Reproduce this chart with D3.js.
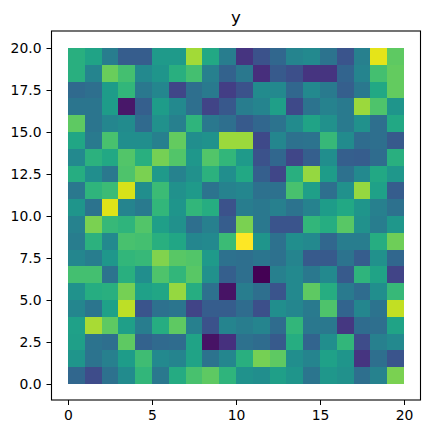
<!DOCTYPE html>
<html>
<head>
<meta charset="utf-8">
<script src="https://cdn.jsdelivr.net/npm/d3@7"></script>
<style>
html,body{margin:0;padding:0;background:#fff}
svg{display:block}
text{font-family:"DejaVu Sans",sans-serif;fill:#000}
</style>
</head>
<body>
<script>
const titleText = "y";
const xTicks = [0, 5, 10, 15, 20];
const yTicks = [0, 2.5, 5, 7.5, 10, 12.5, 15, 17.5, 20];
const row19 = [.63,.58,.42,.29,.29,.54,.54,.86,.60,.42,.15,.25,.33,.45,.47,.38,.26,.43,.96,.75];
const row18 = [.63,.45,.77,.70,.47,.52,.63,.70,.43,.31,.40,.13,.28,.24,.15,.15,.32,.45,.70,.76];
const row17 = [.34,.36,.55,.66,.40,.46,.21,.36,.41,.18,.25,.48,.47,.33,.47,.41,.30,.40,.60,.76];
const row16 = [.39,.39,.55,.06,.30,.55,.47,.36,.20,.27,.42,.45,.56,.22,.38,.44,.41,.85,.72,.52];
const row15 = [.75,.39,.46,.48,.34,.50,.43,.65,.40,.36,.28,.33,.38,.48,.58,.50,.41,.50,.36,.60];
const row14 = [.59,.41,.71,.49,.49,.43,.76,.49,.51,.85,.85,.22,.46,.37,.38,.67,.48,.35,.36,.28];
const row13 = [.47,.64,.60,.73,.63,.79,.73,.53,.73,.66,.54,.25,.33,.21,.30,.49,.30,.29,.35,.63];
const row12 = [.62,.49,.40,.72,.80,.54,.44,.50,.64,.49,.60,.30,.21,.63,.84,.55,.37,.47,.60,.53];
const row11 = [.40,.65,.68,.94,.49,.68,.50,.54,.38,.44,.46,.37,.37,.71,.56,.36,.50,.84,.57,.29];
const row10 = [.52,.38,.95,.45,.41,.66,.52,.66,.62,.25,.42,.40,.43,.38,.44,.55,.60,.52,.43,.37];
const row09 = [.44,.80,.67,.65,.73,.56,.50,.36,.43,.29,.80,.40,.26,.26,.66,.62,.74,.50,.42,.53];
const row08 = [.42,.64,.47,.71,.70,.63,.59,.46,.47,.68,1.0,.52,.37,.49,.47,.33,.42,.42,.62,.78];
const row07 = [.46,.42,.53,.66,.67,.81,.74,.73,.54,.37,.36,.39,.37,.45,.28,.28,.38,.29,.50,.33];
const row06 = [.70,.70,.38,.63,.49,.72,.66,.74,.50,.30,.36,0.0,.43,.47,.40,.47,.28,.65,.58,.20];
const row05 = [.51,.62,.63,.79,.57,.59,.84,.62,.37,.05,.42,.36,.26,.47,.75,.62,.41,.35,.49,.67];
const row04 = [.46,.39,.57,.90,.26,.37,.39,.20,.29,.29,.35,.24,.49,.46,.41,.72,.32,.46,.38,.91];
const row03 = [.57,.87,.75,.56,.42,.62,.75,.43,.25,.45,.42,.45,.35,.66,.40,.40,.16,.35,.36,.58];
const row02 = [.56,.38,.36,.75,.31,.34,.35,.58,.05,.14,.37,.35,.28,.62,.32,.49,.66,.23,.43,.47];
const row01 = [.52,.38,.43,.55,.69,.47,.45,.58,.38,.46,.63,.79,.75,.49,.45,.57,.52,.15,.36,.26];
const row00 = [.33,.23,.37,.48,.66,.40,.61,.71,.75,.65,.51,.49,.56,.52,.39,.53,.50,.36,.44,.80];
const rows = [row00,row01,row02,row03,row04,row05,row06,row07,row08,row09,row10,row11,row12,row13,row14,row15,row16,row17,row18,row19];

const W = 430, H = 434;
const frame = {left: 51.5, right: 420.5, top: 31, bottom: 400};
const x = d3.scaleLinear().domain([0, 20]).range([68, 404]);
const y = d3.scaleLinear().domain([0, 20]).range([384, 48]);
const color = d3.scaleSequential(d3.interpolateViridis).domain([0, 1]);

const svg = d3.select("body").append("svg").attr("width", W).attr("height", H);

const cells = rows.flatMap((r, j) => r.map((v, i) => ({i, j, v})));
svg.append("g").attr("shape-rendering", "crispEdges")
  .selectAll("rect").data(cells).join("rect")
  .attr("x", d => x(d.i))
  .attr("y", d => y(d.j + 1))
  .attr("width", d => x(d.i + 1) - x(d.i))
  .attr("height", d => y(d.j) - y(d.j + 1))
  .attr("fill", d => color(d.v));

const xAxis = d3.axisBottom(x).tickValues(xTicks).tickFormat(d3.format("d")).tickSize(5).tickPadding(5);
const yAxis = d3.axisLeft(y).tickValues(yTicks).tickFormat(d3.format(".1f")).tickSize(5).tickPadding(5);
const gx = svg.append("g").attr("transform", `translate(0,${frame.bottom})`).call(xAxis);
const gy = svg.append("g").attr("transform", `translate(${frame.left},0)`).call(yAxis);
[gx, gy].forEach(g => {
  g.select(".domain").remove();
  g.selectAll("line").attr("stroke", "#000").attr("stroke-width", 1);
  g.selectAll("text").attr("font-size", 13.9).attr("font-family", '"DejaVu Sans",sans-serif').attr("fill", "#000");
});

svg.append("rect")
  .attr("x", frame.left).attr("y", frame.top)
  .attr("width", frame.right - frame.left).attr("height", frame.bottom - frame.top)
  .attr("fill", "none").attr("stroke", "#000").attr("stroke-width", 1.1);

svg.append("text")
  .attr("x", (frame.left + frame.right) / 2).attr("y", 23)
  .attr("text-anchor", "middle").attr("font-size", 16.67).text(titleText);
</script>
</body>
</html>
